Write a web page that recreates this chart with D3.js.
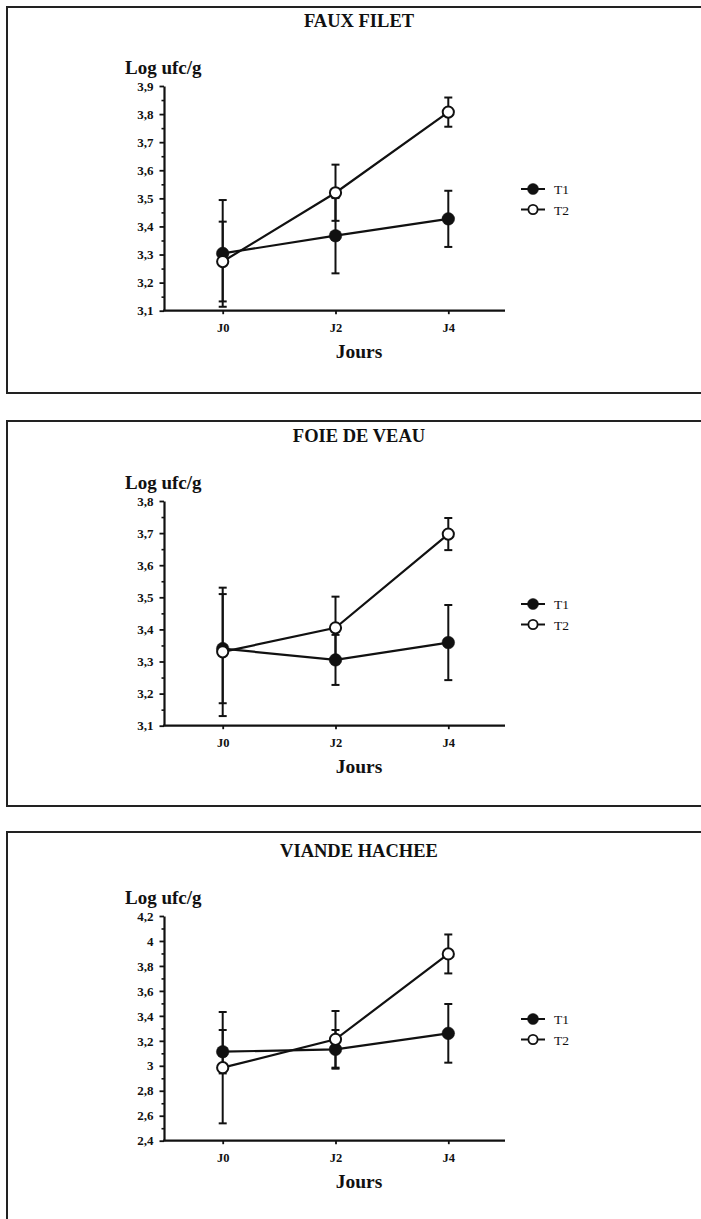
<!DOCTYPE html>
<html>
<head>
<meta charset="utf-8">
<script src="https://cdn.jsdelivr.net/npm/d3@7"></script>
<style>
  html, body { margin: 0; padding: 0; background: #fff; }
  svg { display: block; }
</style>
</head>
<body>
<svg id="chart" width="701" height="1219"></svg>
<script>
// ---------- DATA ----------
const days = ["J0", "J2", "J4"];
const seriesNames = ["T1", "T2"];
const titles = ["FAUX FILET", "FOIE DE VEAU", "VIANDE HACHEE"];

const fauxT1 = [3.304, 3.367, 3.427];
const fauxT1Err = [0.19, 0.134, 0.10];
const fauxT2 = [3.275, 3.52, 3.807];
const fauxT2Err = [0.142, 0.10, 0.052];

const foieT1 = [3.34, 3.305, 3.359];
const foieT1Err = [0.17, 0.078, 0.117];
const foieT2 = [3.33, 3.405, 3.697];
const foieT2Err = [0.2, 0.097, 0.05];

const hacheT1 = [3.113, 3.132, 3.26];
const hacheT1Err = [0.174, 0.155, 0.235];
const hacheT2 = [2.985, 3.212, 3.896];
const hacheT2Err = [0.446, 0.227, 0.156];

const fauxTicks = [3.1, 3.2, 3.3, 3.4, 3.5, 3.6, 3.7, 3.8, 3.9];
const foieTicks = [3.1, 3.2, 3.3, 3.4, 3.5, 3.6, 3.7, 3.8];
const hacheTicks = [2.4, 2.6, 2.8, 3.0, 3.2, 3.4, 3.6, 3.8, 4.0, 4.2];

const yLabel = "Log ufc/g";
const xLabel = "Jours";

// ---------- LAYOUT ----------
const panels = [
  { title: titles[0], t1: fauxT1, t1e: fauxT1Err, t2: fauxT2, t2e: fauxT2Err, ticks: fauxTicks,
    boxTop: 7, boxBottom: 393, yTop: 86, yBottom: 310.7 },
  { title: titles[1], t1: foieT1, t1e: foieT1Err, t2: foieT2, t2e: foieT2Err, ticks: foieTicks,
    boxTop: 421, boxBottom: 806, yTop: 501, yBottom: 725.7 },
  { title: titles[2], t1: hacheT1, t1e: hacheT1Err, t2: hacheT2, t2e: hacheT2Err, ticks: hacheTicks,
    boxTop: 832, boxBottom: null, yTop: 916, yBottom: 1140.7 }
];

const axisX = 164, axisXEnd = 505;
const font = "'Liberation Serif', 'Times New Roman', serif";
const ink = "#111";

const locale = d3.formatLocale({ decimal: ",", thousands: " ", grouping: [3], currency: ["", ""] });
const fmt = locale.format("~g");

const svg = d3.select("#chart");
svg.append("rect").attr("width", 701).attr("height", 1219).attr("fill", "#fff");

const x = d3.scalePoint().domain(days).range([222.7, 448.3]);

panels.forEach(p => {
  const g = svg.append("g");

  // panel box
  const bb = p.boxBottom === null ? 1219 : p.boxBottom;
  g.append("path")
    .attr("d", p.boxBottom === null
      ? `M730,${p.boxTop} H7 V${bb}`
      : `M730,${p.boxTop} H7 V${bb} H730`)
    .attr("fill", "none").attr("stroke", "#222").attr("stroke-width", 2);

  const ext = d3.extent(p.ticks);
  const y = d3.scaleLinear().domain(ext).range([p.yBottom, p.yTop]);

  // title
  g.append("text").attr("x", 359).attr("y", p.yTop - 59)
    .attr("text-anchor", "middle").attr("font-family", font)
    .attr("font-weight", "bold").attr("font-size", 18.5).attr("fill", ink)
    .text(p.title);

  // y label
  g.append("text").attr("x", 125).attr("y", p.yTop - 12)
    .attr("font-family", font).attr("font-weight", "bold")
    .attr("font-size", 19).attr("fill", ink).text(yLabel);

  // x label
  g.append("text").attr("x", 359).attr("y", p.yBottom + 47)
    .attr("text-anchor", "middle").attr("font-family", font)
    .attr("font-weight", "bold").attr("font-size", 19.5).attr("fill", ink)
    .text(xLabel);

  // minor y ticks
  const minor = [];
  for (let i = 0; i < p.ticks.length - 1; i++) minor.push((p.ticks[i] + p.ticks[i + 1]) / 2);
  const yMinor = g.append("g").attr("transform", `translate(${axisX},0)`)
    .call(d3.axisLeft(y).tickValues(minor).tickSize(2.5).tickFormat(""));
  yMinor.select(".domain").remove();
  yMinor.selectAll("line").attr("stroke", ink).attr("stroke-width", 1.6);

  // major y axis
  const yAx = g.append("g").attr("transform", `translate(${axisX},0)`)
    .call(d3.axisLeft(y).tickValues(p.ticks).tickSize(4.5).tickSizeOuter(0).tickPadding(6).tickFormat(fmt));
  yAx.select(".domain").attr("stroke", ink).attr("stroke-width", 2.2);
  yAx.selectAll(".tick line").attr("stroke", ink).attr("stroke-width", 1.8);
  yAx.selectAll("text").attr("font-family", font).attr("font-size", 13)
    .attr("font-weight", "bold").attr("fill", ink);

  // x axis
  const xAx = g.append("g").attr("transform", `translate(0,${p.yBottom})`)
    .call(d3.axisBottom(x).tickSize(3.5).tickSizeOuter(0).tickPadding(9));
  xAx.select(".domain").remove();
  xAx.selectAll(".tick line").attr("stroke", ink).attr("stroke-width", 1.8);
  xAx.selectAll("text").attr("font-family", font).attr("font-size", 12.5)
    .attr("font-weight", "bold").attr("fill", ink);
  g.append("line").attr("x1", axisX - 1).attr("x2", axisXEnd)
    .attr("y1", p.yBottom).attr("y2", p.yBottom)
    .attr("stroke", ink).attr("stroke-width", 2.2);

  const series = [
    { name: seriesNames[0], vals: p.t1, errs: p.t1e, filled: true },
    { name: seriesNames[1], vals: p.t2, errs: p.t2e, filled: false }
  ];

  const line = d3.line().x((d, i) => x(days[i])).y(d => y(d));

  // error bars
  series.forEach(s => {
    s.vals.forEach((v, i) => {
      const cx = x(days[i]);
      const hi = y(v + s.errs[i]), lo = y(v - s.errs[i]);
      g.append("line").attr("x1", cx).attr("x2", cx).attr("y1", hi).attr("y2", lo)
        .attr("stroke", ink).attr("stroke-width", 2);
      [hi, lo].forEach(yy => g.append("line").attr("x1", cx - 4).attr("x2", cx + 4)
        .attr("y1", yy).attr("y2", yy).attr("stroke", ink).attr("stroke-width", 2));
    });
  });

  // lines
  series.forEach(s => {
    g.append("path").attr("d", line(s.vals)).attr("fill", "none")
      .attr("stroke", ink).attr("stroke-width", 2.2);
  });

  // markers
  series.forEach(s => {
    s.vals.forEach((v, i) => {
      g.append("circle").attr("cx", x(days[i])).attr("cy", y(v))
        .attr("r", s.filled ? 6.3 : 5.6)
        .attr("fill", s.filled ? ink : "#fff")
        .attr("stroke", ink).attr("stroke-width", s.filled ? 0.5 : 2);
    });
  });

  // legend
  series.forEach((s, k) => {
    const ly = p.yTop + 103 + k * 20.5;
    g.append("line").attr("x1", 521).attr("x2", 545).attr("y1", ly).attr("y2", ly)
      .attr("stroke", ink).attr("stroke-width", 2);
    g.append("circle").attr("cx", 533).attr("cy", ly).attr("r", s.filled ? 5.5 : 4.6)
      .attr("fill", s.filled ? ink : "#fff").attr("stroke", ink)
      .attr("stroke-width", s.filled ? 0.5 : 1.8);
    g.append("text").attr("x", 554).attr("y", ly + 5).attr("font-family", font)
      .attr("font-size", 13.5).attr("fill", ink).text(s.name);
  });
});
</script>
</body>
</html>
